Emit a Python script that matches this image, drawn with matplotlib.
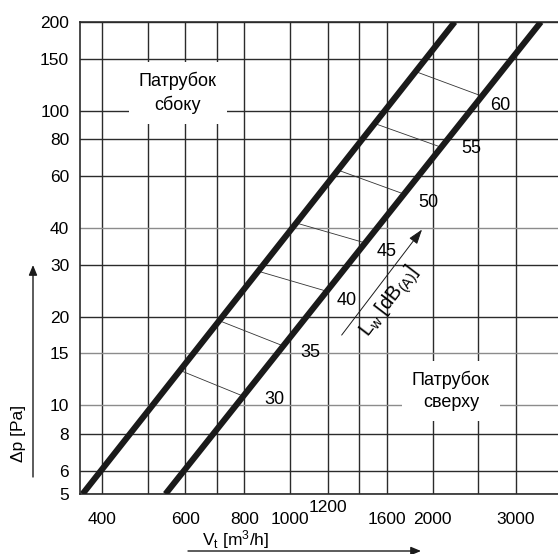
import numpy as np
import matplotlib
matplotlib.use("Agg")
import matplotlib.pyplot as plt

plt.rcParams['font.family'] = ['Liberation Sans', 'DejaVu Sans']
plt.rcParams['mathtext.fontset'] = 'custom'
plt.rcParams['mathtext.rm'] = 'Liberation Sans'
plt.rcParams['mathtext.it'] = 'Liberation Sans:italic'

# characteristic lines, end points (V [m3/h], dp [Pa])
side_v = [364, 2228]
side_dp = [5, 200]
top_v = [545, 3390]
top_dp = [5, 200]

# sound power level lines: V where they meet each characteristic
lw_levels = [30, 35, 40, 45, 50, 55, 60]
lw_v_side = [585, 708, 856, 1030, 1262, 1509, 1842]
lw_v_top = [796, 967, 1195, 1441, 1741, 2087, 2544]

x_grid = [400, 500, 600, 700, 800, 1000, 1200, 1400, 1600, 2000, 2500, 3000]
x_labels = [400, 600, 800, 1000, 1200, 1600, 2000, 3000]
y_ticks = [5, 6, 8, 10, 15, 20, 30, 40, 60, 80, 100, 150, 200]
light_y = [10, 15, 40]


def line_dp(v, vs, dps):
    n = np.log(dps[1] / dps[0]) / np.log(vs[1] / vs[0])
    return dps[0] * (np.asarray(v, dtype=float) / vs[0]) ** n


fig = plt.figure(figsize=(5.58, 5.54), dpi=100)
ax = fig.add_axes([80.3 / 558, 60 / 554, 477.7 / 558, 472 / 554])
ax.set_xscale('log')
ax.set_yscale('log')
ax.set_xlim(360, 3684)
ax.set_ylim(5, 200)

for xv in x_grid:
    ax.axvline(xv, color='#2b2b2b', lw=1.0, zorder=1)
for yv in y_ticks:
    c = '#8c8c8c' if yv in light_y else '#2b2b2b'
    ax.axhline(yv, color=c, lw=1.0, zorder=1)

ax.set_xticks([])
ax.set_yticks([])
ax.minorticks_off()
ax.set_yticks(y_ticks)
ax.set_yticklabels([str(v) for v in y_ticks], fontsize=12.5)
ax.tick_params(axis='y', length=0, pad=8)
for s in ['left', 'top', 'bottom']:
    ax.spines[s].set_color('#2b2b2b')
    ax.spines[s].set_linewidth(1.2)
ax.spines['right'].set_visible(False)

# x tick labels as text (1200 sits higher)
for xv in x_labels:
    off = -13 if xv == 1200 else -25
    ax.annotate(str(xv), xy=(xv, 0), xycoords=('data', 'axes fraction'),
                xytext=(0, off), textcoords='offset pixels',
                ha='center', va='center', fontsize=12.5, annotation_clip=False)

# characteristic lines
vv = np.geomspace(side_v[0], side_v[1], 50)
ax.plot(vv, line_dp(vv, side_v, side_dp), color='#1a1a1a', lw=4.4,
        solid_capstyle='butt', zorder=4)
vv = np.geomspace(top_v[0], top_v[1], 50)
ax.plot(vv, line_dp(vv, top_v, top_dp), color='#1a1a1a', lw=4.4,
        solid_capstyle='butt', zorder=4)

# Lw lines and labels
lab_off = [(31, -3), (27, -7), (20, -9), (21, -9), (24, -8), (30, -1), (18, -9)]
for lv, v1, v2, off in zip(lw_levels, lw_v_side, lw_v_top, lab_off):
    d1 = line_dp(v1, side_v, side_dp)
    d2 = line_dp(v2, top_v, top_dp)
    ax.plot([v1, v2], [d1, d2], color='#333333', lw=0.6, zorder=3)
    ax.annotate(str(lv), xy=(v2, d2), xytext=off, textcoords='offset pixels',
                ha='center', va='center', fontsize=13, zorder=5)

# region labels
box = dict(boxstyle='square,pad=0.55', fc='white', ec='none')
ax.text(0.2045, 0.8496, 'Патрубок\nсбоку', transform=ax.transAxes,
        ha='center', va='center', fontsize=13, linespacing=1.35, bbox=box, zorder=2)
ax.text(0.776, 0.218, 'Патрубок\nсверху', transform=ax.transAxes,
        ha='center', va='center', fontsize=13, linespacing=1.35, bbox=box, zorder=2)

# Lw arrow
ax.annotate('', xy=(0.7189, 0.565), xytext=(0.5436, 0.332),
            xycoords='axes fraction',
            arrowprops=dict(arrowstyle='-|>,head_length=0.9,head_width=0.3',
                            color='#1a1a1a', lw=0.7), zorder=5)
ax.text(0.648, 0.407, r'L$_\mathregular{w}$ [dB$_\mathregular{(A)}$]',
        transform=ax.transAxes, rotation=52.7, rotation_mode='anchor',
        ha='center', va='center', fontsize=14.5, zorder=5)

# axis labels with arrows
fig.text(18 / 558, (554 - 433) / 554, 'Δp [Pa]', rotation=90,
         ha='center', va='center', fontsize=12.5)
fig.text(236 / 558, (554 - 540) / 554, r'V$_\mathregular{t}$ [m$^\mathregular{3}$/h]',
         ha='center', va='center', fontsize=12.5)
fig.add_artist(matplotlib.patches.FancyArrowPatch(
    (33 / 558, (554 - 477) / 554), (33 / 558, (554 - 265) / 554),
    transform=fig.transFigure, arrowstyle='-|>,head_length=6,head_width=2.5',
    color='#1a1a1a', lw=1.0, shrinkA=0, shrinkB=0))
fig.add_artist(matplotlib.patches.FancyArrowPatch(
    (188 / 558, (554 - 551) / 554), (421 / 558, (554 - 551) / 554),
    transform=fig.transFigure, arrowstyle='-|>,head_length=6,head_width=2.5',
    color='#1a1a1a', lw=1.0, shrinkA=0, shrinkB=0))

fig.savefig('out.png', dpi=100)
